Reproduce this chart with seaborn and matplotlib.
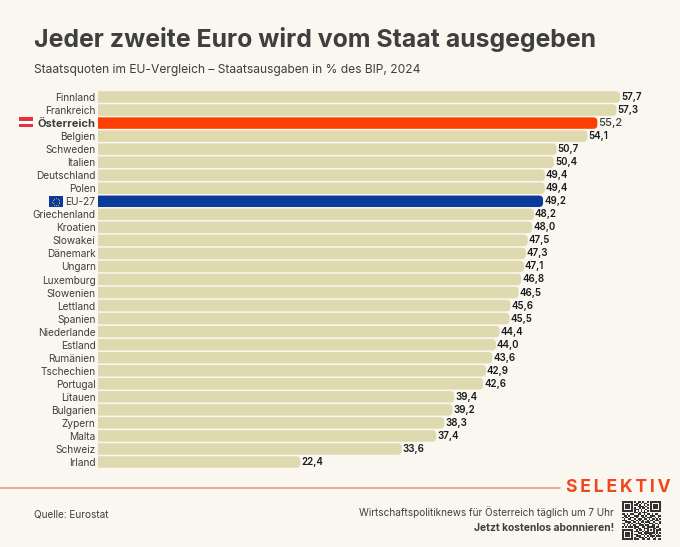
import numpy as np
import pandas as pd
import matplotlib.pyplot as plt
import seaborn as sns
from matplotlib.patches import FancyBboxPatch, Rectangle

countries = ['Finnland', 'Frankreich', 'Österreich', 'Belgien', 'Schweden', 'Italien',
             'Deutschland', 'Polen', 'EU-27', 'Griechenland', 'Kroatien', 'Slowakei',
             'Dänemark', 'Ungarn', 'Luxemburg', 'Slowenien', 'Lettland', 'Spanien',
             'Niederlande', 'Estland', 'Rumänien', 'Tschechien', 'Portugal', 'Litauen',
             'Bulgarien', 'Zypern', 'Malta', 'Schweiz', 'Irland']
quote = [57.7, 57.3, 55.2, 54.1, 50.7, 50.4, 49.4, 49.4, 49.2, 48.2, 48.0, 47.5, 47.3, 47.1,
         46.8, 46.5, 45.6, 45.5, 44.4, 44.0, 43.6, 42.9, 42.6, 39.4, 39.2, 38.3, 37.4, 33.6, 22.4]

# qr code, typed by eye (not scannable)
qr_rows = ['1111111010110100101111111',
           '1000001001101011001000001',
           '1011101011010010101011101',
           '1011101000111101001011101',
           '1011101010010110101011101',
           '1000001011101001001000001',
           '1111111010101010101111111',
           '0000000011010111000000000',
           '1101011100110010110101100',
           '0110100011101101001110011',
           '1011011101000110111001010',
           '0100110010111011010110101',
           '1110001101010100101101110',
           '0011110110101101110010001',
           '1100101001110010011101101',
           '0101010110011101100110010',
           '1010111011100110111110110',
           '0000000010110011100011001',
           '1111111001011010101010111',
           '1000001011100101100010100',
           '1011101000111011111110101',
           '1011101011001101011001010',
           '1011101001110010101110111',
           '1000001010011101010101000',
           '1111111011100110110011011']

BG = '#F9F7F0'
SAND = '#DFD9AF'
RED = '#FF3F00'
BLUE = '#0A3A9C'
DARK = '#3F3F3F'

sns.set_theme(style='white')
plt.rcParams['font.family'] = ['Inter', 'DejaVu Sans']

W, H = 680, 547
fig = plt.figure(figsize=(W / 100, H / 100), dpi=100, facecolor=BG)

# axes in pixels: left 97.5, right end of 57.7 at 620, rows 13.04 px apart
top = 97 - 6.52
bottom = 462 + 6.52
ax = fig.add_axes([97.5 / W, 1 - bottom / H, 522.5 / W, (bottom - top) / H])
ax.set_facecolor('none')

df = pd.DataFrame({'land': countries, 'quote': quote})
colors = [RED if c == 'Österreich' else BLUE if c == 'EU-27' else SAND for c in countries]
sns.barplot(data=df, x='quote', y='land', hue='land', palette=colors, legend=False,
            width=0.88, saturation=1, ax=ax)
ax.set_xlim(0, 57.7)
ax.set_ylim(len(countries) - 0.5, -0.5)
ax.set_xlabel('')
ax.set_ylabel('')
ax.set_xticks([])
sns.despine(ax=ax, left=True, bottom=True)

# swap square bars for ones with rounded right corners
rx = 4 / 9.055
ry = 4 / 13.04
for bar in list(ax.patches):
    x1 = bar.get_width()
    y0 = bar.get_y()
    h = bar.get_height()
    bar.set_visible(False)
    ax.add_patch(FancyBboxPatch((-2, y0), x1 + 2, h,
                                boxstyle=f'round,pad=0,rounding_size={rx}',
                                mutation_aspect=ry / rx,
                                fc=bar.get_facecolor(), ec='none'))

ax.set_yticks(range(len(countries)))
ax.set_yticklabels(countries)
ax.tick_params(axis='y', length=0, pad=1.4)
for lab, c in zip(ax.get_yticklabels(), countries):
    lab.set_color(DARK)
    lab.set_fontsize(7.3)
    if c == 'Österreich':
        lab.set_fontweight('bold')
        lab.set_fontsize(8)

for i, (c, v) in enumerate(zip(countries, quote)):
    ax.annotate(f'{v:.1f}'.replace('.', ','), (v, i), xytext=(0.7, 0), textcoords='offset points',
                va='center', ha='left', fontsize=8 if c == 'Österreich' else 7, annotation_clip=False,
                color=DARK if c == 'Österreich' else '#1A1A1A',
                fontweight='medium' if c == 'Österreich' else 'semibold')


def px(x, y, w, h, color):
    fig.add_artist(Rectangle((x / W, 1 - (y + h) / H), w / W, h / H, fc=color, ec='none',
                             transform=fig.transFigure))


def txt(x, y, s, **kw):
    fig.text(x / W, 1 - y / H, s, va='center', **kw)


txt(34, 40, 'Jeder zweite Euro wird vom Staat ausgegeben', fontsize=17.9, fontweight='bold', color=DARK)
txt(34, 70, 'Staatsquoten im EU-Vergleich – Staatsausgaben in % des BIP, 2024', fontsize=8.7, color=DARK)

# flags
px(19, 117, 14, 3.6, '#E8303F')
px(19, 120.6, 14, 3.2, '#FFFFFF')
px(19, 123.8, 14, 3.6, '#E8303F')
px(48.5, 196.5, 14.5, 10.5, '#0A3A9C')
star_ang = np.linspace(0, 2 * np.pi, 12, endpoint=False)
fig.add_artist(plt.Line2D((55.75 + 3.5 * np.cos(star_ang)) / W,
                          1 - (201.7 + 3.5 * np.sin(star_ang)) / H,
                          ls='none', marker='o', ms=0.6, mew=0, color='#E5C33A',
                          transform=fig.transFigure))

# footer
fig.add_artist(plt.Line2D([0, 560 / W], [1 - 487.5 / H] * 2, color='#EE9A7C', lw=1.2,
                          transform=fig.transFigure))
txt(566, 487, '\u2009'.join('SELEKTIV'), fontsize=12.7, fontweight='bold', color='#F0471C')
txt(34, 514, 'Quelle: Eurostat', fontsize=7.2, color=DARK)
txt(614, 512, 'Wirtschaftspolitiknews für Österreich täglich um 7 Uhr', fontsize=7.2, color=DARK, ha='right')
txt(614, 528, 'Jetzt kostenlos abonnieren!', fontsize=7.4, fontweight='bold', color=DARK, ha='right')

qr_ax = fig.add_axes([622 / W, 1 - 540 / H, 39 / W, 39 / H])
qr = np.array([[int(ch) for ch in row] for row in qr_rows])
sns.heatmap(qr, cmap=[BG, '#333333'], cbar=False, xticklabels=False, yticklabels=False, ax=qr_ax)

fig.savefig('out.png', dpi=100, facecolor=BG)
